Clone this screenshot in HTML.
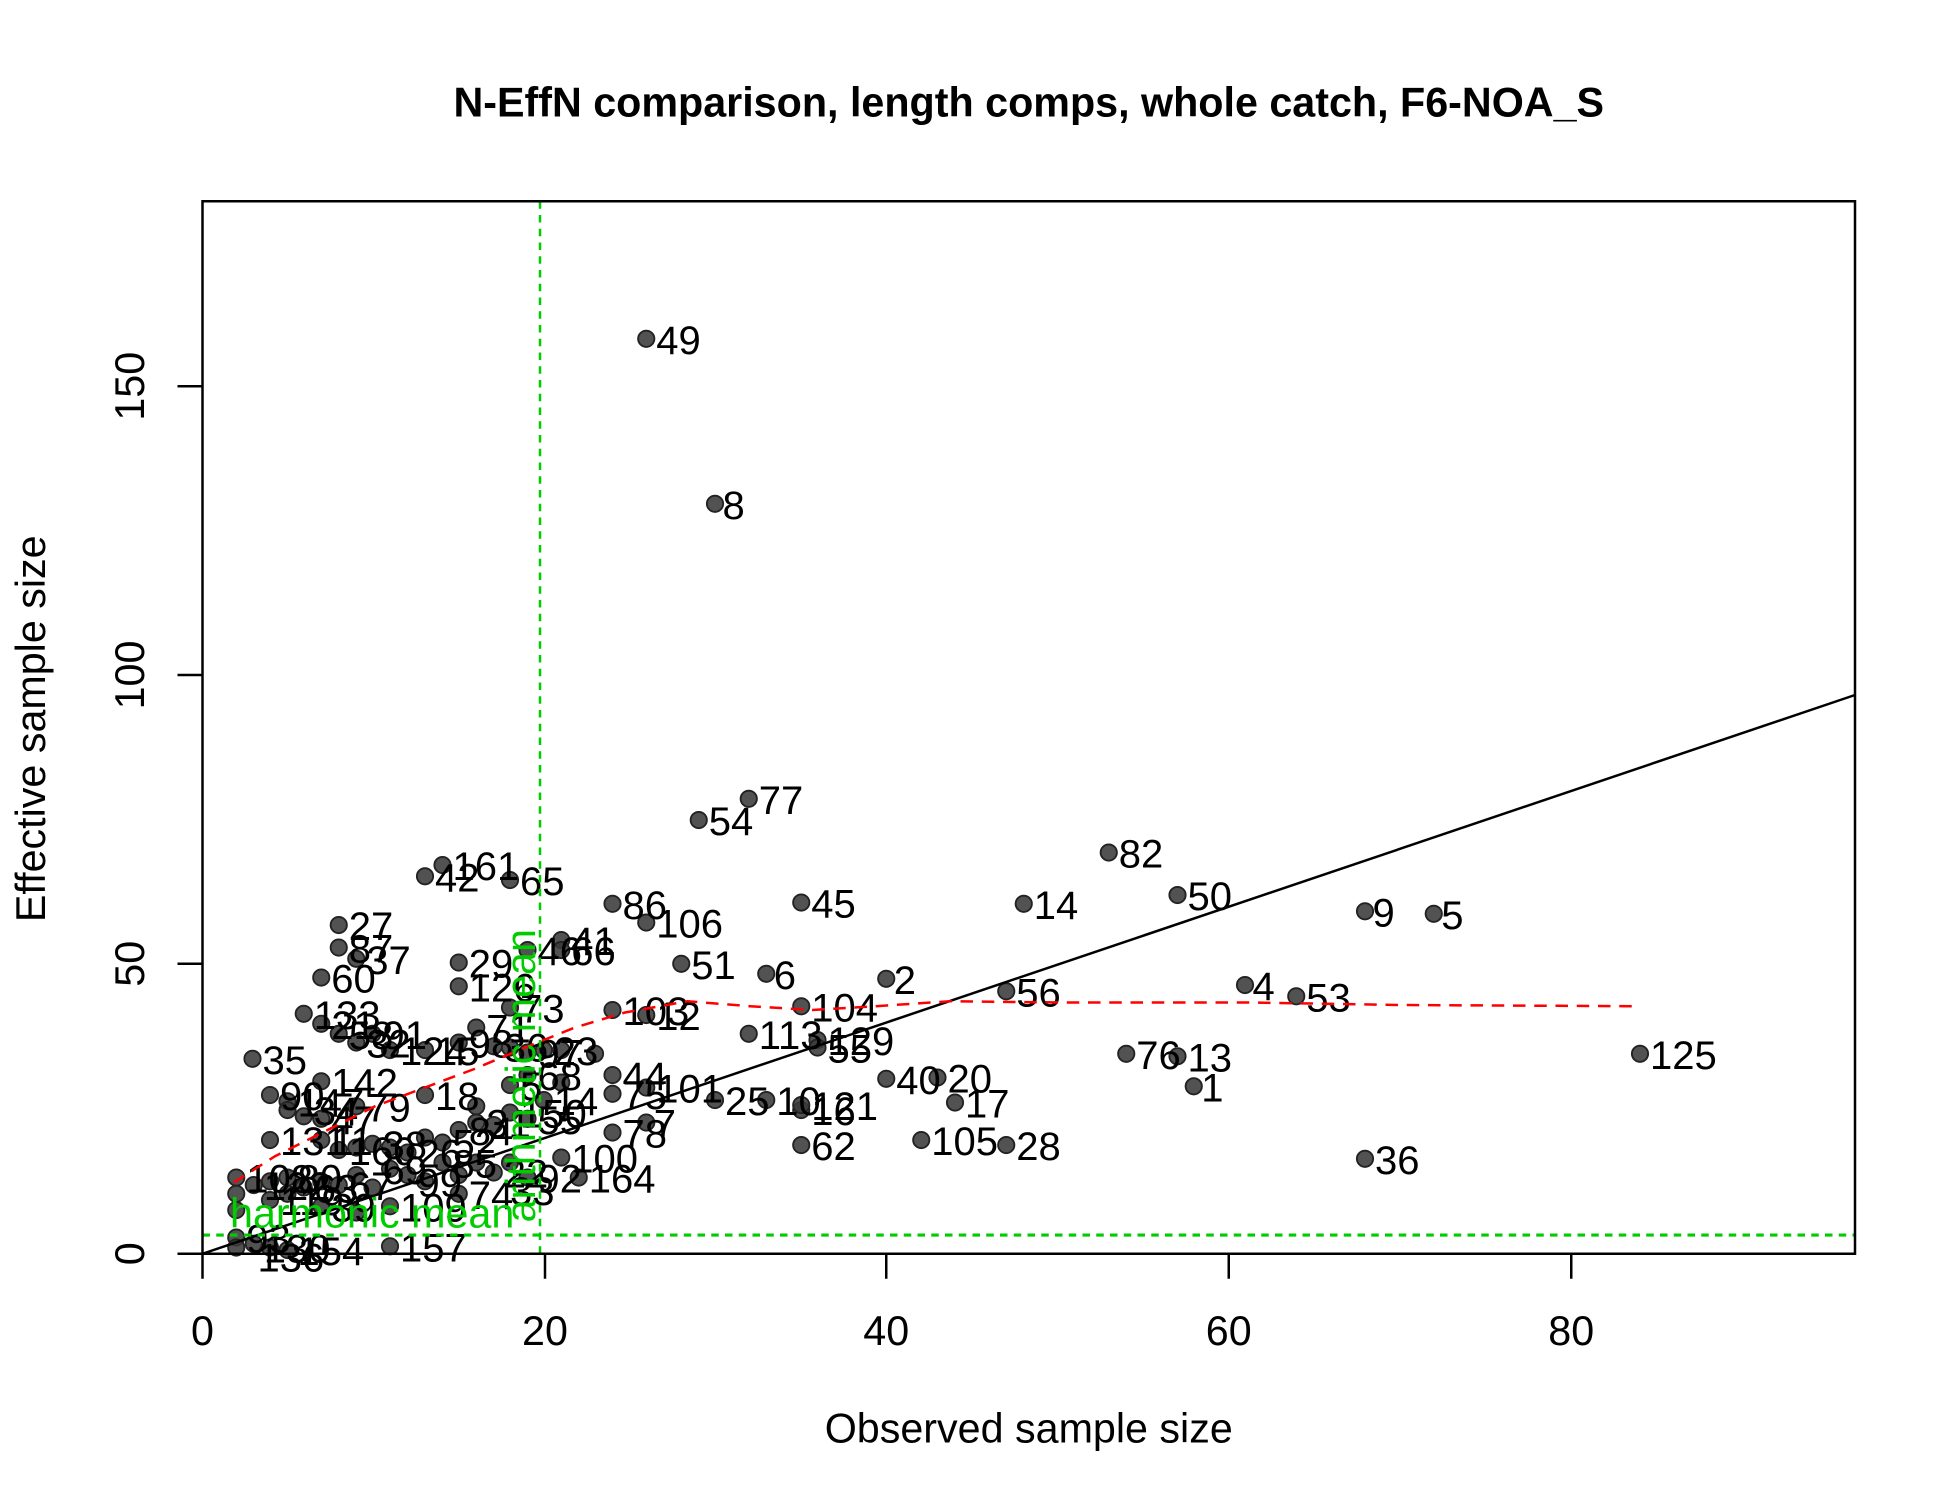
<!DOCTYPE html>
<html><head><meta charset="utf-8"><style>
html,body{margin:0;padding:0;background:#fff}
svg{display:block}
text{font-family:"Liberation Sans",Arial,sans-serif}
.p circle{fill:#3a3a3a;fill-opacity:0.88;stroke:#222;stroke-width:1.5}
.l text{font-size:32px;fill:#000}
</style></head><body>
<svg width="1950" height="1500" viewBox="0 0 1560 1200" xmlns="http://www.w3.org/2000/svg">
<rect width="1560" height="1200" fill="#fff"/>
<text x="823" y="93" font-size="33" font-weight="bold" text-anchor="middle">N-EffN comparison, length comps, whole catch, F6-NOA_S</text>
<text x="823" y="1154" font-size="33" text-anchor="middle">Observed sample size</text>
<text transform="translate(36,583) rotate(-90)" font-size="33" text-anchor="middle">Effective sample size</text>
<g stroke="#000" stroke-width="2">
<line x1="162" y1="1003" x2="162" y2="1023"/><line x1="436" y1="1003" x2="436" y2="1023"/><line x1="709" y1="1003" x2="709" y2="1023"/><line x1="983" y1="1003" x2="983" y2="1023"/><line x1="1257" y1="1003" x2="1257" y2="1023"/>
<line x1="142" y1="1003" x2="162" y2="1003"/><line x1="142" y1="771" x2="162" y2="771"/><line x1="142" y1="540" x2="162" y2="540"/><line x1="142" y1="309" x2="162" y2="309"/>
</g>
<g font-size="33" text-anchor="middle">
<text x="162" y="1076">0</text><text x="436" y="1076">20</text><text x="709" y="1076">40</text><text x="983" y="1076">60</text><text x="1257" y="1076">80</text>
<text transform="translate(115,1003) rotate(-90)">0</text>
<text transform="translate(115,771) rotate(-90)">50</text>
<text transform="translate(115,540) rotate(-90)">100</text>
<text transform="translate(115,309) rotate(-90)">150</text>
</g>
<g class="p">
<circle cx="517" cy="271" r="6.5"/><circle cx="572" cy="403" r="6.5"/><circle cx="599" cy="639" r="6.5"/><circle cx="559" cy="656" r="6.5"/><circle cx="887" cy="682" r="6.5"/><circle cx="942" cy="716" r="6.5"/><circle cx="819" cy="723" r="6.5"/><circle cx="641" cy="722" r="6.5"/><circle cx="490" cy="723" r="6.5"/><circle cx="517" cy="738" r="6.5"/><circle cx="1092" cy="729" r="6.5"/><circle cx="1147" cy="731" r="6.5"/><circle cx="354" cy="692" r="6.5"/><circle cx="340" cy="701" r="6.5"/><circle cx="408" cy="704" r="6.5"/><circle cx="271" cy="740" r="6.5"/><circle cx="271" cy="758" r="6.5"/><circle cx="285" cy="767" r="6.5"/><circle cx="257" cy="782" r="6.5"/><circle cx="367" cy="770" r="6.5"/><circle cx="367" cy="789" r="6.5"/><circle cx="449" cy="752" r="6.5"/><circle cx="422" cy="760" r="6.5"/><circle cx="449" cy="760" r="6.5"/><circle cx="545" cy="771" r="6.5"/><circle cx="613" cy="779" r="6.5"/><circle cx="709" cy="783" r="6.5"/><circle cx="996" cy="788" r="6.5"/><circle cx="1037" cy="797" r="6.5"/><circle cx="805" cy="793" r="6.5"/><circle cx="641" cy="805" r="6.5"/><circle cx="490" cy="808" r="6.5"/><circle cx="517" cy="812" r="6.5"/><circle cx="243" cy="811" r="6.5"/><circle cx="257" cy="819" r="6.5"/><circle cx="408" cy="806" r="6.5"/><circle cx="599" cy="827" r="6.5"/><circle cx="654" cy="832" r="6.5"/><circle cx="654" cy="838" r="6.5"/><circle cx="202" cy="847" r="6.5"/><circle cx="1312" cy="843" r="6.5"/><circle cx="901" cy="843" r="6.5"/><circle cx="942" cy="845" r="6.5"/><circle cx="955" cy="869" r="6.5"/><circle cx="709" cy="863" r="6.5"/><circle cx="750" cy="862" r="6.5"/><circle cx="764" cy="882" r="6.5"/><circle cx="257" cy="865" r="6.5"/><circle cx="340" cy="876" r="6.5"/><circle cx="490" cy="860" r="6.5"/><circle cx="490" cy="875" r="6.5"/><circle cx="517" cy="870" r="6.5"/><circle cx="572" cy="880" r="6.5"/><circle cx="613" cy="880" r="6.5"/><circle cx="641" cy="888" r="6.5"/><circle cx="641" cy="884" r="6.5"/><circle cx="517" cy="898" r="6.5"/><circle cx="490" cy="906" r="6.5"/><circle cx="737" cy="912" r="6.5"/><circle cx="805" cy="916" r="6.5"/><circle cx="641" cy="916" r="6.5"/><circle cx="1092" cy="927" r="6.5"/><circle cx="449" cy="926" r="6.5"/><circle cx="463" cy="942" r="6.5"/><circle cx="312" cy="997" r="6.5"/>
<circle cx="271" cy="827" r="6.5"/><circle cx="298" cy="827" r="6.5"/><circle cx="285" cy="834" r="6.5"/><circle cx="312" cy="840" r="6.5"/><circle cx="340" cy="840" r="6.5"/><circle cx="381" cy="822" r="6.5"/><circle cx="395" cy="837" r="6.5"/><circle cx="422" cy="842" r="6.5"/><circle cx="435" cy="840" r="6.5"/><circle cx="449" cy="840" r="6.5"/><circle cx="476" cy="843" r="6.5"/><circle cx="408" cy="838" r="6.5"/><circle cx="367" cy="834" r="6.5"/>
<circle cx="216" cy="876" r="6.5"/><circle cx="230" cy="881" r="6.5"/><circle cx="230" cy="888" r="6.5"/><circle cx="243" cy="893" r="6.5"/><circle cx="257" cy="895" r="6.5"/><circle cx="285" cy="885" r="6.5"/><circle cx="216" cy="912" r="6.5"/><circle cx="257" cy="912" r="6.5"/><circle cx="271" cy="920" r="6.5"/><circle cx="285" cy="918" r="6.5"/><circle cx="298" cy="915" r="6.5"/><circle cx="312" cy="918" r="6.5"/><circle cx="326" cy="922" r="6.5"/><circle cx="340" cy="910" r="6.5"/><circle cx="354" cy="914" r="6.5"/><circle cx="367" cy="904" r="6.5"/><circle cx="381" cy="898" r="6.5"/><circle cx="395" cy="900" r="6.5"/><circle cx="408" cy="890" r="6.5"/><circle cx="422" cy="895" r="6.5"/><circle cx="381" cy="885" r="6.5"/><circle cx="408" cy="868" r="6.5"/><circle cx="422" cy="860" r="6.5"/><circle cx="449" cy="866" r="6.5"/><circle cx="435" cy="880" r="6.5"/>
<circle cx="189" cy="942" r="6.5"/><circle cx="189" cy="955" r="6.5"/><circle cx="189" cy="968" r="6.5"/><circle cx="203" cy="948" r="6.5"/><circle cx="216" cy="945" r="6.5"/><circle cx="216" cy="960" r="6.5"/><circle cx="230" cy="942" r="6.5"/><circle cx="230" cy="955" r="6.5"/><circle cx="243" cy="950" r="6.5"/><circle cx="257" cy="945" r="6.5"/><circle cx="271" cy="948" r="6.5"/><circle cx="285" cy="940" r="6.5"/><circle cx="298" cy="950" r="6.5"/><circle cx="312" cy="935" r="6.5"/><circle cx="326" cy="940" r="6.5"/><circle cx="340" cy="945" r="6.5"/><circle cx="354" cy="930" r="6.5"/><circle cx="367" cy="940" r="6.5"/><circle cx="367" cy="955" r="6.5"/><circle cx="381" cy="930" r="6.5"/><circle cx="395" cy="938" r="6.5"/><circle cx="408" cy="930" r="6.5"/><circle cx="422" cy="942" r="6.5"/><circle cx="257" cy="965" r="6.5"/><circle cx="285" cy="970" r="6.5"/><circle cx="312" cy="965" r="6.5"/>
<circle cx="189" cy="990" r="6.5"/><circle cx="189" cy="998" r="6.5"/><circle cx="203" cy="995" r="6.5"/><circle cx="216" cy="998" r="6.5"/><circle cx="230" cy="1000" r="6.5"/>
</g>
<g class="l">
<text x="525" y="283">49</text><text x="578" y="415">8</text><text x="607" y="651">77</text><text x="567" y="668">54</text><text x="895" y="694">82</text><text x="950" y="728">50</text><text x="827" y="735">14</text><text x="649" y="734">45</text><text x="498" y="735">86</text><text x="525" y="750">106</text><text x="1098" y="741">9</text><text x="1153" y="743">5</text><text x="362" y="704">161</text><text x="348" y="713">42</text><text x="416" y="716">65</text><text x="279" y="752">27</text><text x="279" y="770">87</text><text x="293" y="779">37</text><text x="265" y="794">60</text><text x="375" y="782">29</text><text x="375" y="801">126</text><text x="457" y="764">41</text><text x="430" y="772">46</text><text x="457" y="772">66</text><text x="553" y="783">51</text><text x="619" y="791">6</text><text x="715" y="795">2</text><text x="1002" y="800">4</text><text x="1045" y="809">53</text><text x="813" y="805">56</text><text x="649" y="817">104</text><text x="498" y="820">103</text><text x="525" y="824">12</text><text x="251" y="823">133</text><text x="265" y="831">21</text><text x="416" y="818">73</text><text x="607" y="839">113</text><text x="662" y="844">129</text><text x="662" y="850">55</text><text x="210" y="859">35</text><text x="1320" y="855">125</text><text x="909" y="855">76</text><text x="950" y="857">13</text><text x="961" y="881">1</text><text x="717" y="875">40</text><text x="758" y="874">20</text><text x="772" y="894">17</text><text x="265" y="877">142</text><text x="348" y="888">18</text><text x="498" y="872">44</text><text x="498" y="887">75</text><text x="525" y="882">101</text><text x="580" y="892">25</text><text x="621" y="892">10</text><text x="649" y="900">16</text><text x="649" y="896">121</text><text x="523" y="910">7</text><text x="498" y="918">78</text><text x="745" y="924">105</text><text x="813" y="928">28</text><text x="649" y="928">62</text><text x="1100" y="939">36</text><text x="457" y="938">100</text><text x="471" y="954">164</text><text x="320" y="1009">157</text>
<text x="279" y="839">58</text><text x="306" y="839">91</text><text x="293" y="846">32</text><text x="320" y="852">124</text><text x="348" y="852">15</text><text x="389" y="834">71</text><text x="403" y="849">36</text><text x="430" y="854">97</text><text x="443" y="852">23</text><text x="375" y="846">98</text>
<text x="224" y="888">90</text><text x="238" y="893">147</text><text x="251" y="900">34</text><text x="265" y="907">47</text><text x="293" y="897">79</text><text x="224" y="924">131</text><text x="265" y="924">11</text><text x="279" y="932">160</text><text x="306" y="927">38</text><text x="334" y="934">26</text><text x="362" y="926">52</text><text x="375" y="916">84</text><text x="389" y="910">31</text><text x="416" y="902">150</text><text x="430" y="907">55</text><text x="416" y="880">5</text><text x="443" y="892">14</text><text x="430" y="872">68</text>
<text x="197" y="954">108</text><text x="211" y="960">122</text><text x="238" y="954">80</text><text x="251" y="962">63</text><text x="279" y="960">67</text><text x="306" y="947">69</text><text x="334" y="957">99</text><text x="362" y="942">85</text><text x="375" y="967">74</text><text x="403" y="950">22</text><text x="430" y="954">92</text><text x="224" y="972">119</text><text x="265" y="977">39</text><text x="320" y="977">109</text><text x="408" y="964">33</text>
<text x="197" y="1002">93</text><text x="211" y="1010">130</text><text x="238" y="1012">154</text><text x="206" y="1017">136</text>
</g>
<line x1="162" y1="1003" x2="1484" y2="556" stroke="#000" stroke-width="2"/>
<polyline fill="none" stroke="#f00" stroke-width="2" stroke-dasharray="10,7" points="187,946 220,925 260,905 300,885 340,870 380,855 420,838 460,822 500,810 550,801 600,805 650,808 700,805 760,801 850,802 1000,802 1120,804 1312,805"/>
<line x1="432" y1="161" x2="432" y2="1003" stroke="#00cc00" stroke-width="2" stroke-dasharray="6,5"/>
<line x1="162" y1="988" x2="1484" y2="988" stroke="#00cc00" stroke-width="2.5" stroke-dasharray="6,5"/>
<text x="184" y="982" font-size="33" fill="#00cc00">harmonic mean</text>
<text transform="translate(428,978) rotate(-90)" font-size="33" fill="#00cc00">arithmetic mean</text>
<rect x="162" y="161" width="1322" height="842" fill="none" stroke="#000" stroke-width="2"/>
</svg>
</body></html>
